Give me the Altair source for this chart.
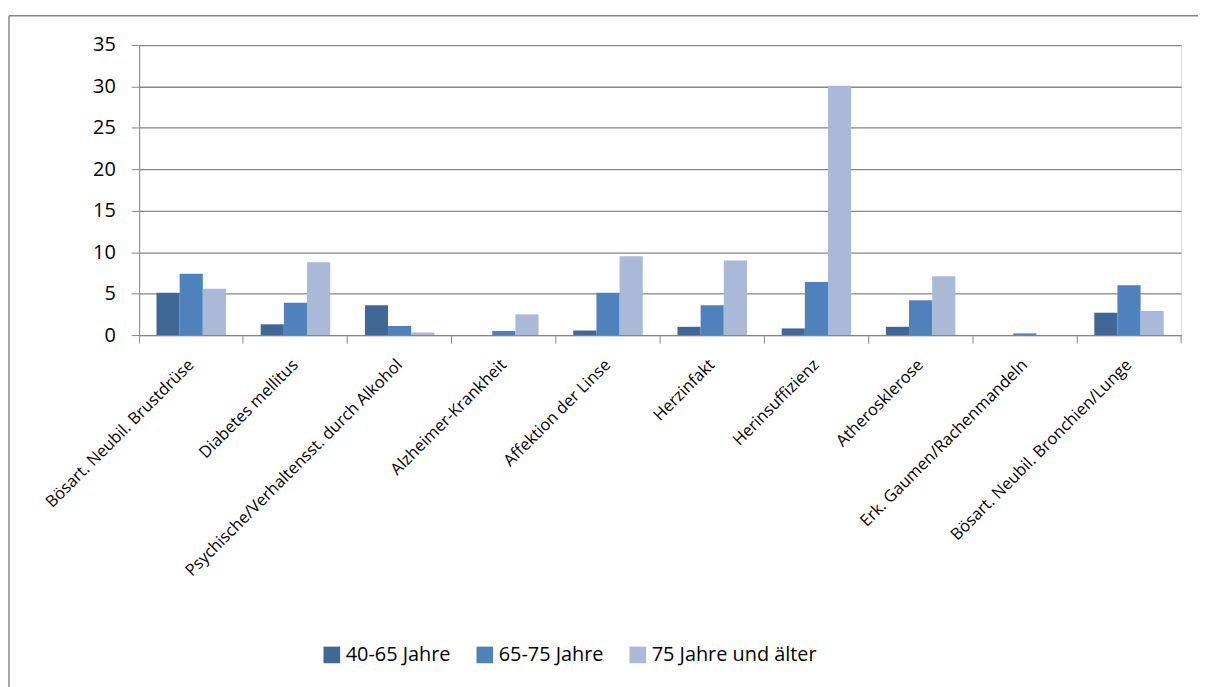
import altair as alt
import pandas as pd

categories = [
    "Bösart. Neubil. Brustdrüse",
    "Diabetes mellitus",
    "Psychische/Verhaltensst. durch Alkohol",
    "Alzheimer-Krankheit",
    "Affektion der Linse",
    "Herzinfakt",
    "Herinsuffizienz",
    "Atherosklerose",
    "Erk. Gaumen/Rachenmandeln",
    "Bösart. Neubil.  Bronchien/Lunge",
]
series = ["40-65 Jahre", "65-75 Jahre", "75 Jahre und älter"]
v_40_65 = [5.1, 1.3, 3.6, 0.0, 0.55, 1.0, 0.8, 1.0, 0.0, 2.7]
v_65_75 = [7.4, 3.9, 1.1, 0.5, 5.1, 3.6, 6.4, 4.2, 0.2, 6.0]
v_75_plus = [5.6, 8.8, 0.3, 2.5, 9.5, 9.0, 30.1, 7.1, 0.0, 2.9]
colors = ["#3F6898", "#4F81BD", "#AAB9D8"]

rows = []
for s, vals in zip(series, [v_40_65, v_65_75, v_75_plus]):
    for c, v in zip(categories, vals):
        rows.append({"Kategorie": c, "Gruppe": s, "Wert": v})
df = pd.DataFrame(rows)

FONT = "Open Sans"
W, H = 1049, 292

bars = alt.Chart(df).mark_bar().encode(
    x=alt.X("Kategorie:N", sort=categories, title=None,
            scale=alt.Scale(paddingInner=0, paddingOuter=0),
            axis=alt.Axis(labelAngle=-45, labelAlign="right", labelBaseline="middle",
                          bandPosition=0, ticks=True, tickSize=8,
                          tickColor="#868686", domainColor="#868686",
                          labelFontSize=16.5, labelFont=FONT, labelColor="#000000",
                          labelPadding=19, grid=False, labelOverlap=False,
                          labelLimit=500)),
    xOffset=alt.XOffset("Gruppe:N", sort=series,
                        scale=alt.Scale(paddingInner=0, paddingOuter=0.75)),
    y=alt.Y("Wert:Q", title=None,
            scale=alt.Scale(domain=[0, 35], nice=False),
            axis=alt.Axis(values=[0, 5, 10, 15, 20, 25, 30, 35], tickSize=8,
                          tickColor="#868686", domainColor="#868686",
                          gridColor="#868686", gridWidth=1.3,
                          labelFontSize=20, labelFont=FONT, labelColor="#000000",
                          labelPadding=16)),
    color=alt.Color("Gruppe:N", sort=series,
                    scale=alt.Scale(domain=series, range=colors),
                    legend=alt.Legend(title=None, orient="none", direction="horizontal",
                                      legendX=184, legendY=604,
                                      symbolType="square", symbolSize=280,
                                      symbolStrokeWidth=0,
                                      labelFontSize=20, labelFont=FONT,
                                      labelColor="#000000", columnPadding=24,
                                      labelOffset=4, labelLimit=400)),
)

end_tick = alt.Chart(pd.DataFrame({"a": [0]})).mark_rule(
    color="#868686", strokeWidth=1
).encode(x=alt.value(W), y=alt.value(H), y2=alt.value(H + 8))

frame_top = alt.Chart(pd.DataFrame({"a": [0]})).mark_rule(
    color="#868686", strokeWidth=1.5, clip=False
).encode(x=alt.value(-131), x2=alt.value(1300), y=alt.value(-29.5))

frame_left = alt.Chart(pd.DataFrame({"a": [0]})).mark_rule(
    color="#868686", strokeWidth=1.5, clip=False
).encode(x=alt.value(-131), y=alt.value(-29.5), y2=alt.value(700))

chart = alt.layer(frame_top, frame_left, bars, end_tick).properties(
    width=W, height=H,
    autosize=alt.AutoSizeParams(type="none"),
    padding={"left": 132, "top": 35, "right": 17, "bottom": 352},
).configure_view(stroke=None).configure(font=FONT)

chart.save("out.html", embed_options={"renderer": "svg", "actions": False})
